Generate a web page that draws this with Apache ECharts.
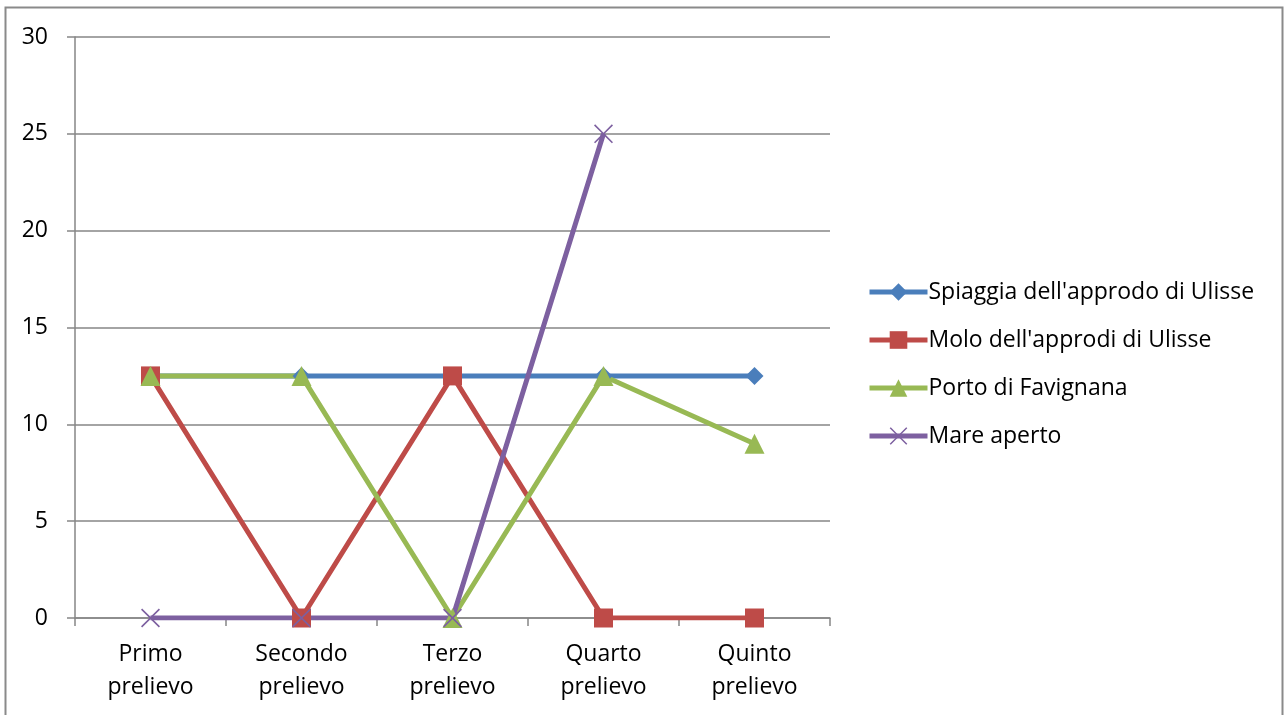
<!DOCTYPE html>
<html>
<head>
<meta charset="utf-8">
<script src="https://cdn.jsdelivr.net/npm/echarts@6/dist/echarts.min.js"></script>
<style>
  html, body { margin: 0; padding: 0; background: #fff; }
  #chart { width: 1285px; height: 715px; }
</style>
</head>
<body>
<div id="chart"></div>
<script>
// Sampling rounds
const categories = ['Primo\nprelievo', 'Secondo\nprelievo', 'Terzo\nprelievo', 'Quarto\nprelievo', 'Quinto\nprelievo'];

// Values per site
const spiaggia = [12.5, 12.5, 12.5, 12.5, 12.5];
const molo = [12.5, 0, 12.5, 0, 0];
const porto = [12.5, 12.5, 0, 12.5, 9];
const mareAperto = [0, 0, 0, 25, null];

const seriesNames = ["Spiaggia dell'approdo di Ulisse", "Molo dell'approdi di Ulisse", 'Porto di Favignana', 'Mare aperto'];

const FONT = '"Open Sans", "Noto Sans", sans-serif';
const crossPath = 'path://M0,1.2L1.2,0L10,8.8L18.8,0L20,1.2L11.2,10L20,18.8L18.8,20L10,11.2L1.2,20L0,18.8L8.8,10Z';

function lineSeries(name, data, color, symbol, size) {
  return {
    name: name,
    type: 'line',
    data: data,
    symbol: symbol,
    symbolSize: size,
    showAllSymbol: true,
    connectNulls: false,
    lineStyle: { color: color, width: 5 },
    itemStyle: { color: color, opacity: 1 },
    emphasis: { disabled: true },
    animation: false
  };
}

const chart = echarts.init(document.getElementById('chart'));
chart.setOption({
  backgroundColor: '#fff',
  animation: false,
  graphic: [{
    type: 'rect',
    shape: { x: 5.5, y: 7.5, width: 1277, height: 720 },
    style: { fill: 'none', stroke: '#8a8a8a', lineWidth: 2 },
    silent: true
  }],
  grid: { left: 75, right: 455, top: 37, bottom: 97 },
  legend: {
    orient: 'vertical',
    left: 862,
    top: 275,
    itemWidth: 58,
    itemHeight: 22,
    itemGap: 24,
    itemStyle: { opacity: 1 },
    lineStyle: { width: 5 },
    textStyle: { fontFamily: FONT, fontSize: 23, lineHeight: 24, color: '#000', padding: [0, 0, 0, -4] },
    data: seriesNames
  },
  xAxis: {
    type: 'category',
    data: categories,
    boundaryGap: true,
    axisLine: { lineStyle: { color: '#868686', width: 1.5 } },
    axisTick: { show: true, length: 8, lineStyle: { color: '#868686', width: 1.5 } },
    axisLabel: { fontFamily: FONT, fontSize: 23, color: '#000', lineHeight: 33, margin: 20 }
  },
  yAxis: {
    type: 'value',
    min: 0,
    max: 30,
    interval: 5,
    axisLine: { show: true, lineStyle: { color: '#868686', width: 1.5 } },
    axisTick: { show: true, length: 8, lineStyle: { color: '#868686', width: 1.5 } },
    splitLine: { lineStyle: { color: '#868686', width: 1.5 } },
    axisLabel: { fontFamily: FONT, fontSize: 23, color: '#000', margin: 27 }
  },
  series: [
    lineSeries(seriesNames[0], spiaggia, '#4a7ebb', 'diamond', 18),
    lineSeries(seriesNames[1], molo, '#be4b48', 'rect', 19),
    lineSeries(seriesNames[2], porto, '#98b954', 'triangle', 20),
    lineSeries(seriesNames[3], mareAperto, '#7d60a0', crossPath, 19)
  ]
});
</script>
</body>
</html>
